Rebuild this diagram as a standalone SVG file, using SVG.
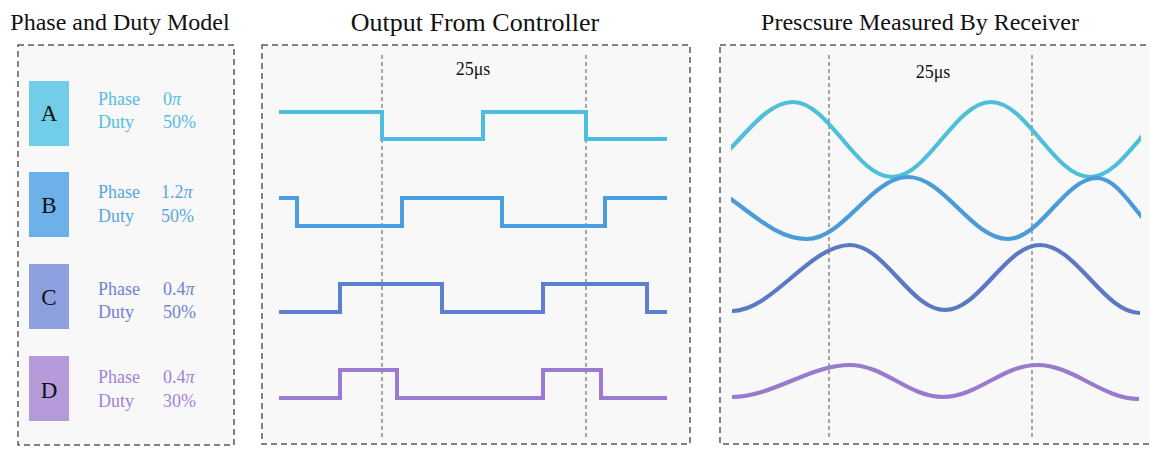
<svg xmlns="http://www.w3.org/2000/svg" width="1150" height="452" viewBox="0 0 1150 452">
  <defs>
    <style>
      .title { font-family: "Liberation Serif", "Times New Roman", serif; font-size: 24px; fill: #111; text-anchor: middle; }
      .title-lg { font-size: 26px; }
      .panel { fill: #f8f8f8; stroke: #5a5a5a; stroke-width: 1.5; stroke-dasharray: 6 4; }
      .guide { stroke: #555; stroke-width: 1; stroke-dasharray: 4 3; fill: none; }
      .letter { font-family: "Liberation Serif", "Times New Roman", serif; font-size: 23px; fill: #111; text-anchor: middle; }
      .param { font-family: "Liberation Serif", "Times New Roman", serif; font-size: 18px; }
      .period { font-family: "Liberation Serif", "Times New Roman", serif; font-size: 18px; fill: #111; text-anchor: middle; }
      .sq { fill: none; stroke-width: 4; stroke-linejoin: miter; stroke-linecap: butt; }
      .wave { fill: none; stroke-width: 4.2; stroke-linecap: butt; }
    </style>
    <clipPath id="waveClip">
      <rect x="731" y="50" width="410" height="390"/>
    </clipPath>
  </defs>

  <rect width="1150" height="452" fill="#ffffff"/>

  <!-- Left panel: phase and duty settings -->
  <g id="model-panel">
    <text class="title" x="120" y="30">Phase and Duty Model</text>
    <rect class="panel" x="18" y="45" width="216" height="400"/>
  </g>

  <g id="channel-a">
    <rect x="29" y="81" width="40" height="65" fill="#72cde8"/>
    <text class="letter" x="49" y="121">A</text>
    <g class="param" fill="#54bde0">
      <text x="98" y="105">Phase</text>
      <text x="98" y="128">Duty</text>
      <text x="163" y="105">0<tspan font-style="italic">π</tspan></text>
      <text x="163" y="128">50%</text>
    </g>
  </g>

  <g id="channel-b">
    <rect x="29" y="172" width="40" height="65" fill="#6cb1ea"/>
    <text class="letter" x="49" y="213">B</text>
    <g class="param" fill="#58a6dc">
      <text x="98" y="198">Phase</text>
      <text x="98" y="222">Duty</text>
      <text x="161" y="198">1.2<tspan font-style="italic">π</tspan></text>
      <text x="161" y="222">50%</text>
    </g>
  </g>

  <g id="channel-c">
    <rect x="29" y="264" width="40" height="65" fill="#8e9fe0"/>
    <text class="letter" x="49" y="305">C</text>
    <g class="param" fill="#7183d0">
      <text x="98" y="295">Phase</text>
      <text x="98" y="318">Duty</text>
      <text x="163" y="295">0.4<tspan font-style="italic">π</tspan></text>
      <text x="163" y="318">50%</text>
    </g>
  </g>

  <g id="channel-d">
    <rect x="29" y="356" width="40" height="65" fill="#b69bda"/>
    <text class="letter" x="49" y="398">D</text>
    <g class="param" fill="#a283d4">
      <text x="98" y="383">Phase</text>
      <text x="98" y="407">Duty</text>
      <text x="163" y="383">0.4<tspan font-style="italic">π</tspan></text>
      <text x="163" y="407">30%</text>
    </g>
  </g>

  <!-- Middle panel: square-wave drive signals -->
  <g id="output-panel">
    <text class="title title-lg" x="475" y="31">Output From Controller</text>
    <rect class="panel" x="262" y="45" width="428" height="399"/>
    <line class="guide" x1="382" y1="55" x2="382" y2="439"/>
    <line class="guide" x1="586" y1="55" x2="586" y2="439"/>
    <text class="period" x="473" y="75">25μs</text>
  </g>

  <g id="output-signals">
    <path class="sq" stroke="#4cbde0" d="M279,112 H382 V139 H483 V112 H586 V139 H667"/>
    <path class="sq" stroke="#4a9de0" d="M279,198 H297 V226 H402 V198 H502 V226 H605 V198 H667"/>
    <path class="sq" stroke="#5f7fd0" d="M279,312 H340 V284 H442 V312 H543 V284 H647 V312 H667"/>
    <path class="sq" stroke="#9b7ad2" d="M279,398 H340 V370 H397 V398 H543 V370 H601 V398 H667"/>
  </g>

  <!-- Right panel: received pressure waves -->
  <g id="pressure-panel">
    <text class="title" x="920" y="30">Prescsure Measured By Receiver</text>
    <rect class="panel" x="720" y="45" width="440" height="399"/>
    <line class="guide" x1="829" y1="55" x2="829" y2="439"/>
    <line class="guide" x1="1032" y1="55" x2="1032" y2="439"/>
    <text class="period" x="933" y="78">25μs</text>
  </g>

  <g id="pressure-waves" clip-path="url(#waveClip)">
    <path class="wave" stroke="#4dbfd8" d="M685,177 C724,177 754,102 793,102 C829,102 856,177 892,177 C928,177 955,102 991,102 C1027,102 1054,177 1090,177 C1126,177 1153,102 1189,102"/>
    <path class="wave" stroke="#4a9bd8" d="M679,177 C725.5,177 760.5,239 807,239 C843.7,239 871.3,177 908,177 C944.3,177 971.7,239 1008,239 C1040.4,239 1064.6,178 1097,178 C1124.6,178 1145.4,239 1173,239"/>
    <path class="wave" stroke="#5b78c4" d="M732,311 C772,311 810,245 850,245 C884.5,245 910.5,310 945,310 C979.5,310 1005.5,245 1040,245 C1076,245 1104,313 1140,313"/>
    <path class="wave" stroke="#9a7acc" d="M732,397 C772,397 810,365 850,365 C884,365 909,397 943,397 C977,397 1003,365 1037,365 C1074,365 1102,399 1139,399"/>
  </g>
</svg>
